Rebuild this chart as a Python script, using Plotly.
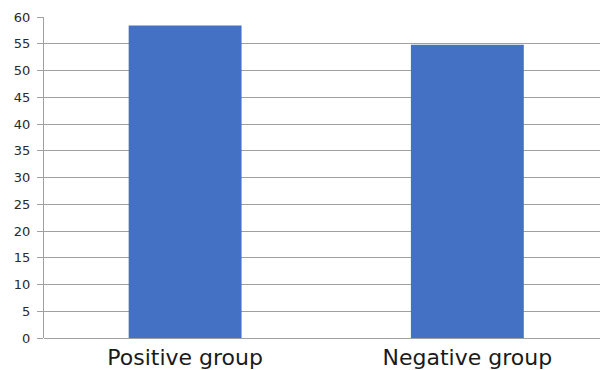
import plotly.graph_objects as go

categories = ["Positive group", "Negative group"]
values = [58.4, 54.8]
y_ticks = list(range(0, 61, 5))

fig = go.Figure()
fig.add_trace(go.Bar(
    x=categories,
    y=values,
    marker=dict(color="#4571c4", line=dict(width=0)),
    width=0.4,
))

fig.update_layout(
    width=600,
    height=370,
    margin=dict(l=44, r=0, t=17, b=32),
    plot_bgcolor="white",
    paper_bgcolor="white",
    showlegend=False,
    font=dict(family="DejaVu Sans", color="#333333"),
)
fig.update_xaxes(
    type="category",
    range=[-0.5, 1.47],
    showgrid=False,
    showline=False,
    ticks="",
    tickfont=dict(size=22, color="#1a1a1a"),
    ticklabelstandoff=4,
)
fig.update_yaxes(
    range=[0, 60],
    tickvals=y_ticks,
    showgrid=True,
    gridcolor="#a0a0a0",
    gridwidth=1,
    showline=True,
    linecolor="#a0a0a0",
    linewidth=1,
    ticks="outside",
    ticklen=6,
    tickcolor="#a0a0a0",
    tickfont=dict(size=13, color="#2a2a2a"),
    ticklabelstandoff=4,
    zeroline=True,
    zerolinecolor="#a0a0a0",
    zerolinewidth=1,
)

fig.write_html("out.html")
